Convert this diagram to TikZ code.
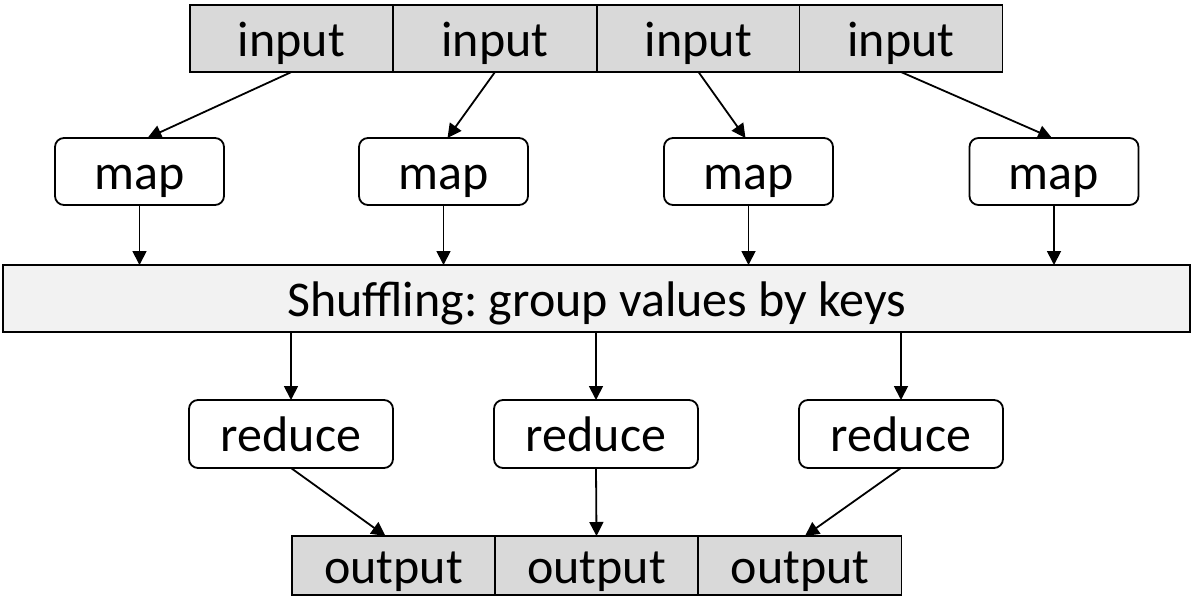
\documentclass[tikz,border=0pt]{standalone}
\usepackage{fontspec}
\setmainfont{Carlito}
\usetikzlibrary{arrows.meta,calc}
\begin{document}
\frenchspacing
\begin{tikzpicture}[x=1pt,y=-1pt,
  every node/.style={font=\fontsize{50}{56}\selectfont, inner sep=0pt, outer sep=0pt, text height=36pt, text depth=1pt},
  cell/.style={draw=black, line width=1.8pt, fill=black!15, minimum width=203pt, minimum height=67pt},
  ocell/.style={cell, minimum height=59pt},
  procbox/.style={draw=black, line width=1.8pt, fill=white, rounded corners=9pt, minimum width=169pt, minimum height=67pt},
  redbox/.style={procbox, minimum width=204pt, minimum height=68pt},
  shufbox/.style={draw=black, line width=1.8pt, fill=black!5, minimum width=1187pt, minimum height=67pt},
  conn/.style={draw=black, line width=1.8pt, -{Triangle[length=14pt,width=14pt]}}
]
\useasboundingbox (0,0) rectangle (1200,598);
% input row
\node[cell] (in1) at (291.5,38.5) {input};
\node[cell] (in2) at (495,38.5) {input};
\node[cell] (in3) at (698.5,38.5) {input};
\node[cell] (in4) at (901,38.5) {input};
% map row
\node[procbox] (m1) at (139.5,171.5) {map};
\node[procbox] (m2) at (443.5,171.5) {map};
\node[procbox] (m3) at (748.5,171.5) {map};
\node[procbox] (m4) at (1054,171.5) {map};
% shuffle
\node[shufbox] (sh) at (596.5,298.5) {Shuffling: group values by keys};
% reduce
\node[redbox] (r1) at (291,434) {reduce};
\node[redbox] (r2) at (596,434) {reduce};
\node[redbox] (r3) at (901,434) {reduce};
% output
\node[ocell] (o1) at (393.5,565.5) {output};
\node[ocell] (o2) at (596.5,565.5) {output};
\node[ocell] (o3) at (800,565.5) {output};
% connectors
\draw[conn] (in1.south) -- ([xshift=8pt]m1.north);
\draw[conn] (in2.south) -- ([xshift=4pt]m2.north);
\draw[conn] (in3.south) -- ([xshift=-3pt]m3.north);
\draw[conn] (in4.south) -- ([xshift=-2pt]m4.north);
\foreach \i in {1,2,3,4}{
  \draw[conn] (m\i.south) -- (m\i.south |- sh.north);
}
\foreach \i in {1,2,3}{
  \draw[conn] (r\i.north |- sh.south) -- (r\i.north);
}
\draw[conn] (r1.south) -- ([xshift=-8pt]o1.north);
\draw[conn] (r2.south) -- (o2.north);
\draw[conn] (r3.south) -- ([xshift=5pt]o3.north);
\end{tikzpicture}
\end{document}
